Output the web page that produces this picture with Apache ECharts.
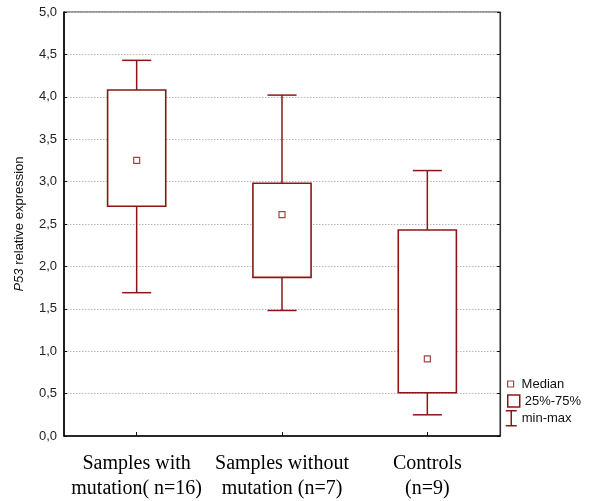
<!DOCTYPE html>
<html>
<head>
<meta charset="utf-8">
<script src="https://cdn.jsdelivr.net/npm/echarts@6/dist/echarts.min.js"></script>
<style>html,body{margin:0;padding:0;background:#fff;}#c{width:593px;height:501px;}</style>
</head>
<body>
<div id="c"></div>
<script>
var categories = ['Samples with\nmutation( n=16)', 'Samples without\nmutation (n=7)', 'Controls\n(n=9)'];
var minValues = [1.69, 1.48, 0.25];
var q1Values = [2.71, 1.87, 0.51];
var medianValues = [3.25, 2.61, 0.91];
var q3Values = [4.08, 2.98, 2.43];
var maxValues = [4.43, 4.02, 3.13];
var legendNames = ['Median', '25%-75%', 'min-max'];

var RED = '#8c1616';
var SANS = 'Liberation Sans, Arial, sans-serif';
var SERIF = 'Liberation Serif, Times New Roman, serif';

var boxData = categories.map(function (c, i) { return [i, q1Values[i], q3Values[i]]; });
var whiskerData = categories.map(function (c, i) { return [i, minValues[i], q1Values[i], q3Values[i], maxValues[i]]; });
var medianData = categories.map(function (c, i) { return [i, medianValues[i]]; });

function fmt(v) { return v.toFixed(1).replace('.', ','); }

var chart = echarts.init(document.getElementById('c'), null, {renderer: 'canvas'});
chart.setOption({
  animation: false,
  backgroundColor: '#fff',
  grid: {left: 64, right: 93, top: 12, bottom: 63, show: true, borderColor: '#333', borderWidth: 1, backgroundColor: 'transparent'},
  legend: [
    {left: 507, top: 377, padding: 0, itemWidth: 12, itemHeight: 6, selectedMode: false, symbolKeepAspect: true,
     textStyle: {fontFamily: SANS, fontSize: 13, color: '#111', lineHeight: 14},
     data: [{name: legendNames[0], icon: 'path://M0,0L1,0L1,1L0,1Z', itemStyle: {color: '#fff', borderColor: RED, borderWidth: 1.2}}]},
    {left: 507, top: 394, padding: 0, itemWidth: 12, itemHeight: 12, selectedMode: false,
     textStyle: {fontFamily: SANS, fontSize: 13, color: '#111', lineHeight: 14},
     data: [{name: legendNames[1], icon: 'rect', itemStyle: {color: '#fff', borderColor: RED, borderWidth: 1.5}}]},
    {left: 505, top: 410, padding: 0, itemWidth: 11, itemHeight: 15, selectedMode: false, symbolKeepAspect: false,
     textStyle: {fontFamily: SANS, fontSize: 13, color: '#111', lineHeight: 15},
     data: [{name: legendNames[2], icon: 'path://M0,0L11,0M5.5,0L5.5,15M0,15L11,15', itemStyle: {color: 'transparent', borderColor: RED, borderWidth: 1.5}}]}
  ],
  xAxis: {
    type: 'category', data: categories, boundaryGap: true,
    axisLine: {show: true, lineStyle: {color: '#000', width: 1.6}},
    axisTick: {show: true, inside: true, alignWithLabel: true, length: 4, lineStyle: {color: '#111'}},
    axisLabel: {fontFamily: SERIF, fontSize: 20, color: '#000', lineHeight: 25, margin: 15, interval: 0},
    splitLine: {show: false}
  },
  yAxis: [{
    type: 'value', min: 0, max: 5, interval: 0.5,
    name: '{i|P53} relative expression', nameLocation: 'middle', nameGap: 38,
    nameTextStyle: {fontFamily: SANS, fontSize: 13, color: '#111', rich: {i: {fontStyle: 'italic', fontFamily: SANS, fontSize: 13, color: '#111'}}},
    axisLine: {show: true, lineStyle: {color: '#000', width: 1.6}},
    axisTick: {show: true, inside: true, length: 3, lineStyle: {color: '#111'}},
    axisLabel: {fontFamily: SANS, fontSize: 13, color: '#222', margin: 7, formatter: fmt},
    splitLine: {show: true, lineStyle: {color: '#b8b8b8', type: [1.5, 1.5], width: 1}}
  }, {
    type: 'value', min: 0, max: 5, interval: 0.5, position: 'right',
    axisLine: {show: true, lineStyle: {color: '#333', width: 1.2}},
    axisTick: {show: true, inside: true, length: 3, lineStyle: {color: '#111'}},
    axisLabel: {show: false}, splitLine: {show: false}
  }],
  series: [
    {
      name: legendNames[1], type: 'custom', z: 3, data: boxData,
      itemStyle: {color: '#fff', borderColor: RED},
      renderItem: function (params, api) {
        var x = api.value(0);
        var lo = api.coord([x, api.value(1)]);
        var hi = api.coord([x, api.value(2)]);
        var band = api.size([1, 0])[0];
        var w = band * 0.4;
        return {type: 'rect', shape: {x: lo[0] - w / 2, y: hi[1], width: w, height: lo[1] - hi[1]},
                style: {fill: '#fff', stroke: RED, lineWidth: 1.6}};
      }
    },
    {
      name: legendNames[2], type: 'custom', z: 4, data: whiskerData,
      itemStyle: {color: RED},
      renderItem: function (params, api) {
        var x = api.value(0);
        var pMin = api.coord([x, api.value(1)]);
        var pQ1 = api.coord([x, api.value(2)]);
        var pQ3 = api.coord([x, api.value(3)]);
        var pMax = api.coord([x, api.value(4)]);
        var band = api.size([1, 0])[0];
        var c = band * 0.1;
        var st = {stroke: RED, lineWidth: 1.5};
        return {type: 'group', children: [
          {type: 'line', shape: {x1: pMin[0], y1: pMin[1], x2: pQ1[0], y2: pQ1[1]}, style: st},
          {type: 'line', shape: {x1: pQ3[0], y1: pQ3[1], x2: pMax[0], y2: pMax[1]}, style: st},
          {type: 'line', shape: {x1: pMin[0] - c, y1: pMin[1], x2: pMin[0] + c, y2: pMin[1]}, style: st},
          {type: 'line', shape: {x1: pMax[0] - c, y1: pMax[1], x2: pMax[0] + c, y2: pMax[1]}, style: st}
        ]};
      }
    },
    {
      name: legendNames[0], type: 'scatter', z: 5, data: medianData,
      symbol: 'rect', symbolSize: 6,
      itemStyle: {color: '#fff', borderColor: RED, borderWidth: 1.2}
    }
  ]
});
</script>
</body>
</html>
